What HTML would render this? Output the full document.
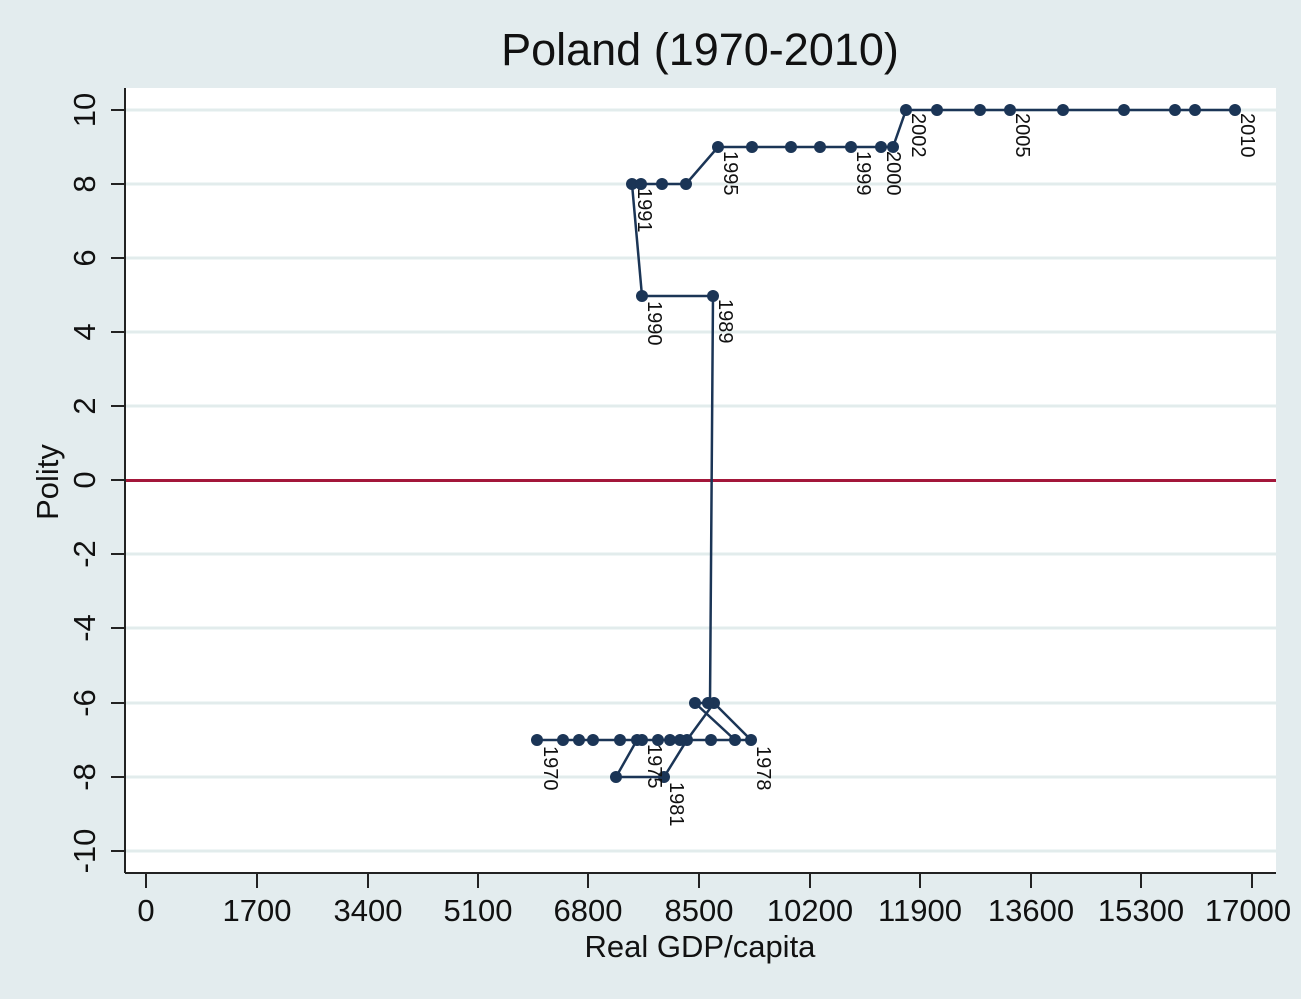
<!DOCTYPE html>
<html><head><meta charset="utf-8"><style>
html,body{margin:0;padding:0;background:#e3ecee;}
svg{display:block;}
text{font-family:"Liberation Sans",Arial,sans-serif;fill:#111;}
</style></head><body>
<svg width="1301" height="999" viewBox="0 0 1301 999" xmlns="http://www.w3.org/2000/svg">
<rect x="0" y="0" width="1301" height="999" fill="#e3ecee"/>
<rect x="125" y="88" width="1151" height="785" fill="#fff"/>
<g stroke="#e2ecec" stroke-width="3">
<line x1="125" x2="1276" y1="110" y2="110"/><line x1="125" x2="1276" y1="184" y2="184"/>
<line x1="125" x2="1276" y1="258" y2="258"/><line x1="125" x2="1276" y1="332" y2="332"/>
<line x1="125" x2="1276" y1="406" y2="406"/><line x1="125" x2="1276" y1="554" y2="554"/>
<line x1="125" x2="1276" y1="628" y2="628"/><line x1="125" x2="1276" y1="703" y2="703"/>
<line x1="125" x2="1276" y1="777" y2="777"/><line x1="125" x2="1276" y1="851" y2="851"/>
</g>
<line x1="125" x2="1276" y1="480.5" y2="480.5" stroke="#a3173a" stroke-width="3"/>
<g stroke="#222" stroke-width="2">
<line x1="125" y1="88" x2="125" y2="873"/><line x1="125" y1="873" x2="1276" y2="873"/>
<line x1="111" x2="125" y1="110" y2="110"/><line x1="111" x2="125" y1="184" y2="184"/>
<line x1="111" x2="125" y1="258" y2="258"/><line x1="111" x2="125" y1="332" y2="332"/>
<line x1="111" x2="125" y1="406" y2="406"/><line x1="111" x2="125" y1="480" y2="480"/>
<line x1="111" x2="125" y1="554" y2="554"/><line x1="111" x2="125" y1="628" y2="628"/>
<line x1="111" x2="125" y1="703" y2="703"/><line x1="111" x2="125" y1="777" y2="777"/>
<line x1="111" x2="125" y1="851" y2="851"/>
<line y1="873" y2="888" x1="146" x2="146"/><line y1="873" y2="888" x1="257" x2="257"/>
<line y1="873" y2="888" x1="368" x2="368"/><line y1="873" y2="888" x1="478" x2="478"/>
<line y1="873" y2="888" x1="588" x2="588"/><line y1="873" y2="888" x1="699" x2="699"/>
<line y1="873" y2="888" x1="810" x2="810"/><line y1="873" y2="888" x1="920" x2="920"/>
<line y1="873" y2="888" x1="1031" x2="1031"/><line y1="873" y2="888" x1="1141" x2="1141"/>
<line y1="873" y2="888" x1="1252" x2="1252"/>
</g>
<g font-size="31" text-anchor="middle">
<text x="146" y="921">0</text><text x="257" y="921">1700</text><text x="368" y="921">3400</text>
<text x="478" y="921">5100</text><text x="588" y="921">6800</text><text x="699" y="921">8500</text>
<text x="810" y="921">10200</text><text x="920" y="921">11900</text><text x="1031" y="921">13600</text>
<text x="1141" y="921">15300</text><text x="1248" y="921">17000</text>
</g>
<g font-size="31" text-anchor="middle">
<text transform="translate(95,110) rotate(-90)">10</text>
<text transform="translate(95,184) rotate(-90)">8</text>
<text transform="translate(95,258) rotate(-90)">6</text>
<text transform="translate(95,332) rotate(-90)">4</text>
<text transform="translate(95,406) rotate(-90)">2</text>
<text transform="translate(95,480) rotate(-90)">0</text>
<text transform="translate(95,554) rotate(-90)">-2</text>
<text transform="translate(95,628) rotate(-90)">-4</text>
<text transform="translate(95,703) rotate(-90)">-6</text>
<text transform="translate(95,777) rotate(-90)">-8</text>
<text transform="translate(95,851) rotate(-90)">-10</text>
<text transform="translate(58,482) rotate(-90)">Polity</text>
</g>
<text x="700" y="957" font-size="31" text-anchor="middle">Real GDP/capita</text>
<text x="700" y="65" font-size="45" text-anchor="middle">Poland (1970-2010)</text>
<polyline fill="none" stroke="#1b3556" stroke-width="2.5" points="537,740 563,740 579,740 593,740 620,740 642,740 670,740 711,740 751,740 714,703 687,740 664,777 616,777 637,740 658,740 680,740 735,740 695,703 710,703 713,296 642,296 632,184 641,184 662,184 686,184 718,147 752,147 791,147 820,147 851,147 881,147 893,147 906,110 937,110 980,110 1010,110 1063,110 1124,110 1175,110 1195,110 1235,110"/>
<g fill="#1b3556">
<circle cx="537" cy="740" r="6"/><circle cx="563" cy="740" r="6"/><circle cx="579" cy="740" r="6"/><circle cx="593" cy="740" r="6"/><circle cx="620" cy="740" r="6"/><circle cx="642" cy="740" r="6"/><circle cx="670" cy="740" r="6"/><circle cx="711" cy="740" r="6"/><circle cx="751" cy="740" r="6"/><circle cx="714" cy="703" r="6"/><circle cx="687" cy="740" r="6"/><circle cx="664" cy="777" r="6"/><circle cx="616" cy="777" r="6"/><circle cx="637" cy="740" r="6"/><circle cx="658" cy="740" r="6"/><circle cx="680" cy="740" r="6"/><circle cx="735" cy="740" r="6"/><circle cx="695" cy="703" r="6"/><circle cx="708" cy="703" r="6"/><circle cx="713" cy="296" r="6"/><circle cx="642" cy="296" r="6"/><circle cx="632" cy="184" r="6"/><circle cx="641" cy="184" r="6"/><circle cx="662" cy="184" r="6"/><circle cx="686" cy="184" r="6"/><circle cx="718" cy="147" r="6"/><circle cx="752" cy="147" r="6"/><circle cx="791" cy="147" r="6"/><circle cx="820" cy="147" r="6"/><circle cx="851" cy="147" r="6"/><circle cx="881" cy="147" r="6"/><circle cx="893" cy="147" r="6"/><circle cx="906" cy="110" r="6"/><circle cx="937" cy="110" r="6"/><circle cx="980" cy="110" r="6"/><circle cx="1010" cy="110" r="6"/><circle cx="1063" cy="110" r="6"/><circle cx="1124" cy="110" r="6"/><circle cx="1175" cy="110" r="6"/><circle cx="1195" cy="110" r="6"/><circle cx="1235" cy="110" r="6"/>
</g>
<g font-size="20" fill="#1b3556">
<text transform="translate(544,746) rotate(90)">1970</text>
<text transform="translate(648,744) rotate(90)">1975</text>
<text transform="translate(757,746) rotate(90)">1978</text>
<text transform="translate(670,782) rotate(90)">1981</text>
<text transform="translate(719,299) rotate(90)">1989</text>
<text transform="translate(648,301) rotate(90)">1990</text>
<text transform="translate(638,188) rotate(90)">1991</text>
<text transform="translate(724,151) rotate(90)">1995</text>
<text transform="translate(857,151) rotate(90)">1999</text>
<text transform="translate(887,151) rotate(90)">2000</text>
<text transform="translate(912,113) rotate(90)">2002</text>
<text transform="translate(1016,113) rotate(90)">2005</text>
<text transform="translate(1241,113) rotate(90)">2010</text>
</g>
</svg>
</body></html>
